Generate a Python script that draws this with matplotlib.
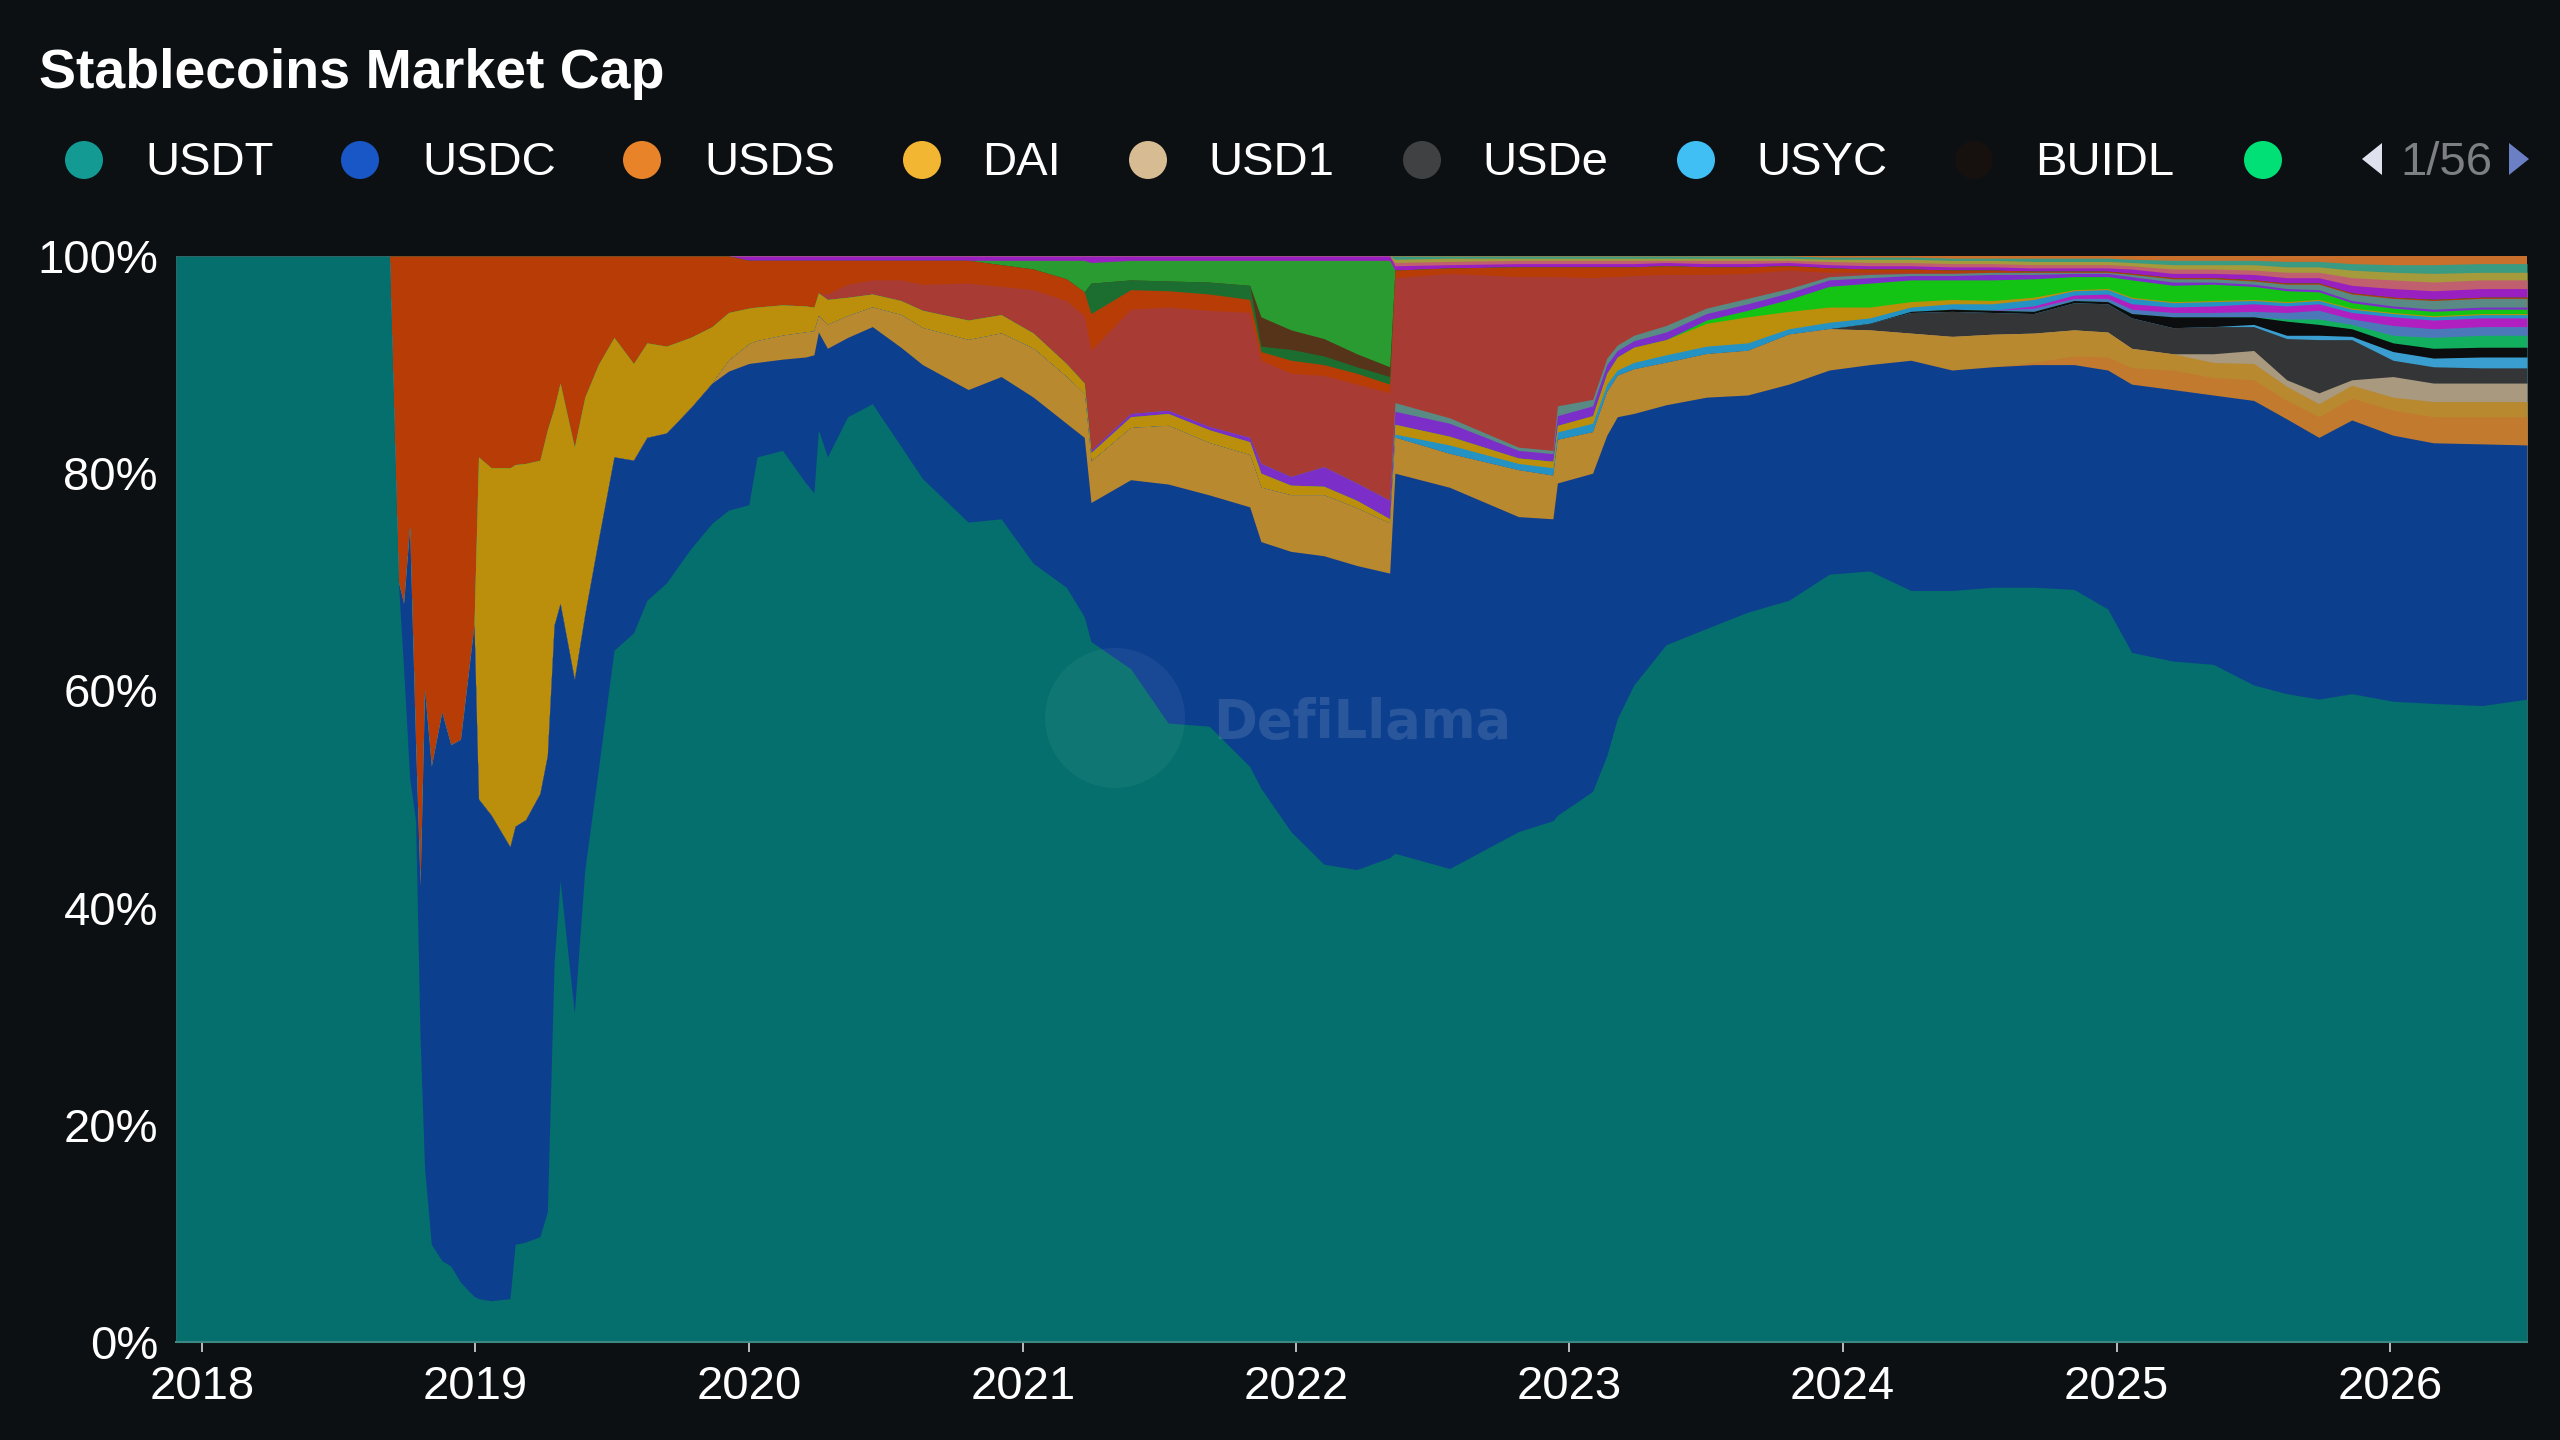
import numpy as np
import pandas as pd
import matplotlib
matplotlib.use("Agg")
import matplotlib.pyplot as plt
import matplotlib.dates as mdates
from matplotlib.patches import Circle, Polygon

plt.rcParams['font.family'] = ['Liberation Sans', 'DejaVu Sans']

# sample dates (share of total stablecoin market cap, %)
dates = pd.to_datetime([
    '2017-11-27', '2018-09-08', '2018-09-20', '2018-09-27', '2018-10-05', '2018-10-13', '2018-10-19',
    '2018-10-25', '2018-11-03', '2018-11-17', '2018-11-29', '2018-12-12', '2018-12-30', '2019-01-05',
    '2019-01-22', '2019-02-16', '2019-02-23', '2019-03-09', '2019-03-28', '2019-04-07', '2019-04-16',
    '2019-04-24', '2019-05-13', '2019-05-27', '2019-06-14', '2019-07-05', '2019-07-31', '2019-08-18',
    '2019-09-13', '2019-10-15', '2019-11-13', '2019-12-05', '2020-01-01', '2020-01-12', '2020-02-15',
    '2020-03-17', '2020-03-28', '2020-04-03', '2020-04-15', '2020-05-12', '2020-06-14', '2020-07-22',
    '2020-08-20', '2020-10-20', '2020-12-03', '2021-01-15', '2021-02-28', '2021-03-24', '2021-04-02',
    '2021-05-25', '2021-07-14', '2021-09-07', '2021-10-31', '2021-11-15', '2021-12-25', '2022-02-07',
    '2022-03-23', '2022-05-06', '2022-05-13', '2022-07-25', '2022-10-25', '2022-12-10', '2022-12-16',
    '2023-02-01', '2023-02-20', '2023-03-06', '2023-03-28', '2023-05-10', '2023-07-03', '2023-08-27',
    '2023-10-21', '2023-12-14', '2024-02-06', '2024-04-01', '2024-05-26', '2024-07-19', '2024-09-12',
    '2024-11-05', '2024-12-20', '2025-01-21', '2025-03-17', '2025-05-10', '2025-07-03', '2025-08-16',
    '2025-09-28', '2025-11-11', '2026-01-05', '2026-02-28', '2026-05-04', '2026-07-03'])

USDT = [100, 100, 70, 62, 52, 48, 28, 16, 9, 7.5,
        7, 5.5, 4.2, 4, 3.8, 4, 9, 9.2, 9.7, 12,
        35, 42.5, 30.3, 43.5, 52.7, 63.7, 65.3, 68.3, 69.9, 73,
        75.4, 76.6, 77.1, 81.5, 82.1, 79.1, 78.2, 84, 81.5, 85.2,
        86.4, 82.5, 79.5, 75.5, 75.8, 71.7, 69.5, 66.8, 64.5, 62,
        57, 56.7, 53, 51, 47, 44, 43.5, 44.6, 45, 43.6,
        47, 48, 48.5, 50.7, 54, 57.4, 60.5, 64.2, 65.7, 67.2,
        68.3, 70.7, 71, 69.2, 69.2, 69.5, 69.5, 69.3, 67.5, 63.5,
        62.7, 62.4, 60.5, 59.7, 59.2, 59.7, 59, 58.8, 58.6, 59.2]
USDC = [0, 0, 0, 6, 23, 7, 14, 44, 44, 50.5,
        48, 50, 61.8, 46, 44.7, 41.6, 38.5, 38.9, 40.8, 42,
        31, 25.5, 30.7, 23.5, 21.1, 17.8, 15.9, 15, 13.8, 13,
        12.9, 12.8, 13, 8.7, 8.4, 11.6, 12.7, 9, 10, 7.3,
        7.1, 9.1, 10.5, 12.2, 13.1, 15.3, 15.1, 16.5, 12.8, 17.4,
        22, 21.3, 23.9, 22.7, 25.8, 28.4, 28, 26.2, 35, 35.1,
        29, 27.8, 30.6, 29.3, 29.5, 27.8, 25, 22.1, 21.3, 20,
        19.9, 18.8, 19, 21.2, 20.3, 20.3, 20.5, 20.7, 22, 24.7,
        25, 24.8, 26.2, 25.3, 24.1, 25.2, 24.5, 24, 24.1, 23.4]
USDS = [0] * 76 + [0.2, 0.8, 1.2, 1.5, 1.8, 1.6, 1.9, 1.7, 1.9, 2.0, 2.3, 2.4, 2.5, 2.6]
DAI = [0] * 31 + [1.0, 1.8, 2, 2.2, 2.3, 2.2, 1.5, 2.2, 2, 1.8,
                  3, 3.4, 4.6, 4, 4.5, 4.3, 4, 3.8, 4.8, 5.4,
                  4.8, 4.8, 5, 5.2, 5.6, 5.3, 4.6, 3.3, 3.1, 4.3,
                  4, 4, 3.8, 4, 3.8, 4.1, 3.9, 4.0, 4.1, 4.6,
                  3.8, 3.2, 2.5, 3.1, 3.0, 2.7, 2.4, 2.3, 1.8, 1.5,
                  1.4, 1.5, 1.3, 1.2, 1.2, 1.2, 1.4, 1.4, 1.4]
USD1 = [0] * 81 + [0.8, 1.2, 0.6, 1.0, 0.5, 1.9, 1.7, 1.7, 1.7]
USDe = [0] * 72 + [0.6, 1.9, 2.3, 2.0, 1.8, 2.5, 2.6, 2.8, 2.4, 2.5, 2.2, 3.8, 4.9, 3.7, 1.5, 1.5, 1.4, 1.4]
USYC = [0] * 82 + [0.2, 0.3, 0.4, 0.3, 0.8, 0.8, 1.0, 1.0]
BUIDL = [0] * 73 + [0.1, 0.2, 0.2, 0.2, 0.2, 0.2, 0.4, 1.0, 0.9, 0.7, 1.3, 1.0, 0.7, 0.8, 0.9, 0.9, 0.9]
USDTB = [0] * 83 + [0.2, 0.5, 0.4, 0.7, 1.0, 1.1, 1.1]
PYUSD = [0] * 76 + [0.3, 0.2, 0.3, 0.4, 0.4, 0.4, 0.5, 0.6, 0.8, 0.5, 0.9, 0.8, 0.8, 0.8]
USDG = [0] * 76 + [0.2, 0.3, 0.4, 0.5, 0.5, 0.6, 0.7, 0.6, 0.6, 0.6, 0.8, 0.8, 0.8, 0.8]
USDD = [0] * 58 + [0.3, 0.8, 0.6, 0.7, 0.7, 0.8, 0.7, 0.5, 0.6, 0.7,
                   0.7, 0.7, 0.5, 0.6, 0.5, 0.4, 0.5, 0.6, 0.6, 0.4,
                   0.4, 0.5, 0.4, 0.4, 0.3, 0.3, 0.3, 0.3, 0.3, 0.3, 0.3, 0.3]
TUSD = [0] * 13 + [31.5, 32, 34.9, 33.3, 32.8, 30.7, 30,
                   20, 20.3, 21.4, 20, 16.2, 11, 8.9, 8.7, 8, 6.5,
                   5.2, 4.4, 3.3, 3.1, 2.8, 2.4, 2.2, 2.1, 2.3, 1.7,
                   1.2, 1.3, 1.6, 1.8, 1.7, 1.4, 1.2, 1, 0.8, 1,
                   1.1, 1.2, 1.2, 1.3, 0.9, 0.8, 0.7, 0.4, 0.9, 0.8,
                   0.5, 0.6, 0.6, 0.7, 1.0, 1.2, 1.4, 1.4, 2.1, 2.4,
                   1.6, 1.4, 1.0, 0.5, 0.4, 0.3, 0.2, 0.1, 0.1, 0.1,
                   0.1, 0.1, 0.1, 0.1, 0.1, 0.1, 0.1, 0.1, 0.1, 0.1]
FDUSD = [0] * 68 + [0.3, 0.6, 1.1, 1.9, 2.2, 2.0, 1.8, 1.9, 1.7, 1.2,
                    1.1, 1.6, 1.5, 1.5, 1.2, 1.0, 0.7, 0.5, 0.4, 0.4, 0.4, 0.4]
FRAX = [0] * 48 + [0.2, 0.3, 0.3, 0.3, 0.4, 0.9, 0.8, 1.8, 1.6, 1.7,
                   1.2, 1.2, 0.7, 0.7, 0.9, 0.9, 0.8, 0.6, 0.6, 0.7,
                   0.6, 0.6, 0.6, 0.6, 0.5, 0.4, 0.4, 0.5, 0.4, 0.3,
                   0.3, 0.3, 0.3, 0.2, 0.2, 0.2, 0.2, 0.2, 0.2, 0.2, 0.2, 0.2]
GUSD = [0] * 58 + [0.8, 0.5, 0.3, 0.3, 0.9, 0.6, 0.6, 0.5, 0.5, 0.6,
                   0.5, 0.5, 0.4, 0.3, 0.3, 0.2, 0.2, 0.2, 0.2, 0.1,
                   0.1, 0.2, 0.3, 0.3, 0.3, 0.4, 0.5, 0.6, 0.7, 0.8, 0.8, 0.8]
BUSD = [0] * 38 + [0.5, 1.2, 1.3, 1.9, 2.4, 3.4, 2.6, 4.0, 5.8, 6.2,
                   9.2, 9.6, 9.5, 10.7, 11.5, 9.5, 9.5, 8.4, 9.1, 9.9,
                   11.5, 13.3, 15.7, 16, 11.9, 11.2, 7.5, 6.3, 5.5, 4.7,
                   3.1, 2.3, 1.7, 0.4, 0.2, 0.1, 0.1] + [0] * 15
USDP = [0, 0, 30, 32, 25, 45, 58, 40, 47, 42,
        45, 44.5, 34, 18.5, 19.5, 19.5, 19.2, 19.1, 18.8, 16,
        14, 11.7, 17.6, 13, 10, 7.5, 9.9, 8, 8.3, 7.5,
        6.5, 5.2, 4.4, 4.3, 4.1, 4.2, 4.3, 3.0, 3.1, 2.2,
        1.8, 1.8, 2.2, 2.1, 2, 1.9, 2, 2.2, 3.4, 1.8,
        1.5, 1.5, 1.2, 0.8, 1.2, 1.0, 1, 0.8, 0.7, 0.5,
        0.9, 0.9, 0.9, 1.0, 0.9, 0.9, 0.8, 0.8, 0.7, 0.6,
        0.4, 0.4, 0.3, 0.3, 0.2, 0.2, 0.1, 0.1, 0.1, 0.1,
        0.1, 0.1, 0.1, 0.1, 0.1, 0.1, 0.1, 0.1, 0.1, 0.1]
LUSD = [0] * 48 + [2.8, 0.9, 0.9, 1.1, 1.3, 0.5, 1.0, 0.8, 0.6, 0.7] + [0] * 32
MIM = [0] * 53 + [2.7, 1.8, 1.6, 1.2, 0.9] + [0] * 32
UST = [0] * 44 + [0.4, 0.8, 1.7, 2.9, 1.9, 1.8, 1.9, 2, 2.3, 5.2, 6.4, 7.2, 8.6, 9.8] + [0] * 32
OTHER1 = [0] * 32 + [0.4] * 16 + [0.6] + [0.4] * 10 + [0.3] * 20 + [0.4] * 3 + [0.5] * 3 + [0.7] + [0.8] * 4
OTHER2 = [0] * 58 + [0.3] * 9 + [0.2] + [0.3] * 2 + [0.2] + [0.3] * 9 + [0.4] * 3 + [0.5] * 2 + [0.7] + [0.8] * 4
OTHER3 = [0] * 58 + [0.3] * 2 + [0.2] * 12 + [0.3] * 8 + [0.4] * 2 + [0.5] * 3 + [0.7, 0.7, 0.8, 0.7, 0.7]
OTHER4 = [0] * 58 + [0.3] + [0.2] * 17 + [0.3] * 4 + [0.4] * 3 + [0.5] * 2 + [0.6, 0.7, 0.8, 0.8, 0.8]
OTHER5 = [0] * 71 + [0.1] * 3 + [0.2] * 5 + [0.3] + [0.4] * 3 + [0.5] * 2 + [0.7, 0.8, 0.8, 0.7, 0.7]

# stacking order, bottom to top
series = [USDT, USDC, USDS, DAI, USD1, USDe, USYC, BUIDL, USDTB, PYUSD, USDG, USDD,
          TUSD, FDUSD, FRAX, GUSD, BUSD, USDP, LUSD, MIM, UST,
          OTHER1, OTHER2, OTHER3, OTHER4, OTHER5]
area_colors = ['#046f6c', '#0d3f8f', '#c27a2e', '#b8892f', '#a8997f', '#333537', '#3a9fd0', '#0b0d0e',
               '#12b05e', '#4a78b8', '#b020c0', '#2592c4', '#bb8f0c', '#14c414', '#7b2fc8', '#5a8a84',
               '#a83b33', '#b83c06', '#1c6e30', '#553419', '#2a9b30',
               '#9a1fc0', '#c0606e', '#a59a3c', '#3a9a82', '#c8702c']

legend_names = ['USDT', 'USDC', 'USDS', 'DAI', 'USD1', 'USDe', 'USYC', 'BUIDL', '']
legend_colors = ['#139a93', '#1957c6', '#e8832a', '#f2b632', '#d6bb93', '#404142', '#40bff5', '#16110e', '#00e077']
legend_dot_x = [84, 360, 642, 922, 1148, 1422, 1696, 1974, 2263]
legend_text_x = [145, 422, 704, 982, 1208, 1482, 1756, 2035, None]

BG = '#0c1013'

vals = np.array(series, dtype=float)
pct = vals / vals.sum(axis=0) * 100
tops = np.cumsum(pct, axis=0)

fig = plt.figure(figsize=(25.6, 14.4), dpi=100, facecolor=BG)
ax = fig.add_axes([176 / 2560, 1 - 1342 / 1440, (2527 - 176) / 2560, (1342 - 256) / 1440])
ax.set_facecolor(BG)

# draw from the top layer down, each filled from 0, so no seams show between bands
for i in reversed(range(len(series))):
    ax.fill_between(dates, 0, tops[i], color=area_colors[i], lw=0)

ax.set_xlim(dates[0], dates[-1])
ax.set_ylim(0, 100)
ax.xaxis.set_major_locator(mdates.YearLocator())
ax.xaxis.set_major_formatter(mdates.DateFormatter('%Y'))
ax.set_yticks([0, 20, 40, 60, 80, 100])
ax.set_yticklabels(['0%', '20%', '40%', '60%', '80%', '100%'])
ax.tick_params(axis='x', labelsize=34, labelcolor='white', color='#d8d8d8', length=7.5, width=1.2, pad=9)
ax.tick_params(axis='y', labelsize=34, labelcolor='white', length=0, pad=13)
for side in ['top', 'right', 'left']:
    ax.spines[side].set_visible(False)
ax.spines['bottom'].set_color('#3f8784')
ax.spines['bottom'].set_linewidth(1.5)

# title
fig.text(39 / 2560, 1 - 88 / 1440, 'Stablecoins Market Cap', fontsize=40, fontweight='bold',
         color='white', ha='left', va='baseline')

# legend row
inch = fig.dpi_scale_trans
for name, col, dx, tx in zip(legend_names, legend_colors, legend_dot_x, legend_text_x):
    fig.add_artist(Circle((dx / 100, (1440 - 160) / 100), 0.19, transform=inch, color=col, lw=0))
    if tx is not None:
        fig.text(tx / 2560, 1 - 175 / 1440, name, fontsize=34, color='white', ha='left', va='baseline')

# pager
fig.add_artist(Polygon([(23.62, 12.81), (23.82, 12.97), (23.82, 12.65)], closed=True,
                       transform=inch, color='#dfe2ee', lw=0))
fig.text(2400 / 2560, 1 - 175 / 1440, '1/56', fontsize=34, color='#7d7f83', ha='left', va='baseline')
fig.add_artist(Polygon([(25.29, 12.81), (25.09, 12.97), (25.09, 12.65)], closed=True,
                       transform=inch, color='#6b7fc4', lw=0))

# faint watermark
fig.add_artist(Circle((11.15, (1440 - 718) / 100), 0.70, transform=inch, color='white', alpha=0.05, lw=0))
fig.text(1213 / 2560, 1 - 723 / 1440, 'DefiLlama', fontsize=38, fontweight='bold', family='DejaVu Sans',
         color='white', alpha=0.12, ha='left', va='center')

fig.savefig('out.png', dpi=100, facecolor=BG)
